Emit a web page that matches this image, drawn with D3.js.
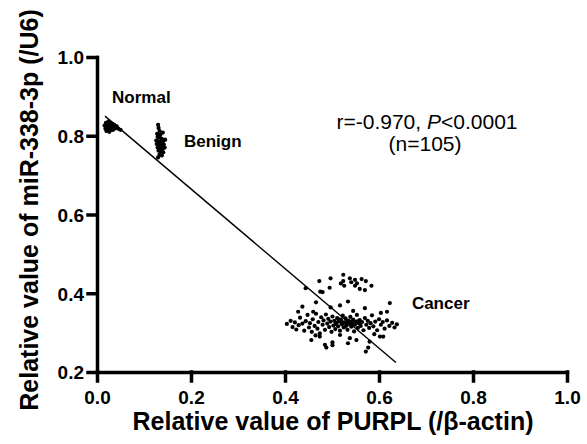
<!DOCTYPE html>
<html lang="en">
<head>
  <meta charset="UTF-8">
  <title>PURPL vs miR-338-3p</title>
  <script src="https://d3js.org/d3.v7.min.js"></script>
  <style>
    body { margin: 0; background: #fff; }
    svg { display: block; background: #fff; }
    text { font-family: "Liberation Sans", Arial, sans-serif; fill: #000; }
    .label { font-size: 25px; font-weight: bold; }
    .group { font-size: 17px; font-weight: bold; }
    .stat { font-size: 21px; }
    .tick-label { font-size: 19px; font-weight: bold; }
  </style>
</head>
<body>
  <svg width="587" height="444"></svg>

  <script>
    const width = 587;
    const height = 444;

    // datos: [PURPL, miR-338-3p]
    const normalPoints = [
      [0.016,0.826],[0.018,0.818],[0.019,0.833],[0.020,0.812],[0.021,0.824],[0.022,0.829],
      [0.023,0.816],[0.024,0.836],[0.025,0.821],[0.026,0.810],[0.027,0.827],[0.028,0.819],
      [0.029,0.832],[0.030,0.814],[0.031,0.825],[0.032,0.820],[0.033,0.830],[0.034,0.815],
      [0.035,0.823],[0.036,0.828],[0.037,0.818],[0.038,0.826],[0.040,0.821],[0.042,0.824],
      [0.045,0.818],[0.050,0.815]
    ];
    const benignPoints = [
      [0.130,0.828],[0.131,0.820],[0.133,0.812],[0.128,0.805],[0.135,0.803],[0.140,0.808],
      [0.129,0.797],[0.134,0.795],[0.138,0.792],[0.126,0.788],[0.131,0.786],[0.136,0.784],
      [0.141,0.787],[0.145,0.790],[0.127,0.779],[0.132,0.777],[0.137,0.775],[0.142,0.778],
      [0.129,0.770],[0.134,0.768],[0.139,0.766],[0.144,0.770],[0.131,0.762],[0.136,0.760],
      [0.141,0.758],[0.133,0.752],[0.138,0.750],[0.130,0.745]
    ];
    const cancerPoints = [
      // grupo alto
      [0.473,0.431],[0.497,0.438],[0.524,0.447],[0.538,0.438],[0.519,0.425],[0.526,0.419],
      [0.549,0.434],[0.563,0.436],[0.549,0.419],[0.559,0.411],[0.570,0.408],[0.584,0.419],
      [0.444,0.413],[0.475,0.404],[0.480,0.403],[0.495,0.414],[0.524,0.431],[0.541,0.428],
      [0.553,0.425],[0.572,0.431],
      // medio
      [0.437,0.366],[0.466,0.377],[0.428,0.353],[0.534,0.379],[0.623,0.375],[0.617,0.353],
      [0.517,0.369],[0.570,0.362],[0.497,0.364],[0.460,0.353],[0.545,0.355],[0.604,0.350],
      // banda principal
      [0.404,0.322],[0.412,0.330],[0.416,0.314],[0.421,0.326],[0.424,0.308],[0.429,0.319],
      [0.432,0.338],[0.437,0.323],[0.441,0.305],[0.444,0.329],[0.448,0.345],[0.451,0.313],
      [0.453,0.324],[0.457,0.302],[0.459,0.334],[0.463,0.317],[0.466,0.348],[0.469,0.310],
      [0.471,0.327],[0.474,0.298],[0.477,0.339],[0.480,0.320],[0.482,0.331],[0.485,0.307],
      [0.487,0.346],[0.490,0.323],[0.492,0.335],[0.494,0.314],[0.497,0.328],[0.499,0.302],
      [0.501,0.341],[0.503,0.318],[0.505,0.330],[0.507,0.309],[0.509,0.325],[0.511,0.337],
      [0.513,0.316],[0.515,0.328],[0.517,0.305],[0.519,0.333],[0.521,0.321],[0.523,0.343],
      [0.525,0.313],[0.527,0.326],[0.529,0.336],[0.531,0.318],[0.533,0.307],[0.535,0.330],
      [0.537,0.322],[0.539,0.340],[0.541,0.315],[0.543,0.325],[0.545,0.333],[0.547,0.303],
      [0.549,0.320],[0.551,0.328],[0.553,0.345],[0.555,0.312],[0.557,0.324],[0.559,0.332],
      [0.561,0.317],[0.564,0.327],[0.567,0.306],[0.570,0.337],[0.573,0.320],[0.576,0.330],
      [0.579,0.312],[0.582,0.324],[0.585,0.344],[0.588,0.316],[0.592,0.328],[0.596,0.306],
      [0.600,0.334],[0.604,0.320],[0.608,0.327],[0.612,0.310],[0.617,0.331],[0.622,0.317],
      [0.628,0.325],[0.633,0.313],[0.638,0.321],[0.508,0.322],[0.522,0.326],[0.532,0.324],
      [0.540,0.328],[0.546,0.321],[0.556,0.329],[0.514,0.334],[0.528,0.316],[0.560,0.323],
      // grupo bajo
      [0.456,0.281],[0.485,0.269],[0.488,0.262],[0.501,0.275],[0.501,0.268],[0.534,0.273],
      [0.552,0.281],[0.577,0.262],[0.572,0.252],[0.517,0.294],[0.474,0.290],[0.602,0.290],
      [0.609,0.290],[0.538,0.286],[0.580,0.277],[0.465,0.293],[0.590,0.296]
    ];

    // recta de regresion
    const fitIntercept = 0.867;
    const fitSlope = -1.011;
    const fitRange = [0.017, 0.636];

    const xTicks = [0, 0.2, 0.4, 0.6, 0.8, 1.0];
    const yTicks = [0.2, 0.4, 0.6, 0.8, 1.0];

    const groupLabels = [
      { text: "Normal", x: 0.032, y: 0.883 },
      { text: "Benign", x: 0.185, y: 0.772 },
      { text: "Cancer", x: 0.67, y: 0.36 }
    ];

    const svg = d3.select("svg")
        .attr("width", width)
        .attr("height", height);

    const x = d3.scaleLinear().domain([0, 1]).range([97, 567]);
    const y = d3.scaleLinear().domain([0.2, 1]).range([372, 57]);

    // ejes: d3 genera la escala y los ticks, luego se repasan en negro grueso
    const xAxisG = svg.append("g")
        .attr("transform", `translate(0,${y(0.2)})`)
        .call(d3.axisBottom(x).tickValues(xTicks).tickFormat(d3.format(".1f"))
          .tickSize(9).tickSizeOuter(0).tickPadding(5));

    const yAxisG = svg.append("g")
        .attr("transform", `translate(${x(0)},0)`)
        .call(d3.axisLeft(y).tickValues(yTicks).tickFormat(d3.format(".1f"))
          .tickSize(9).tickSizeOuter(0).tickPadding(4));

    [xAxisG, yAxisG].forEach(g => {
      g.attr("font-size", null).attr("font-family", null);
      g.selectAll(".domain, .tick line")
        .attr("stroke", "#000")
        .attr("stroke-width", 3.5)
        .attr("stroke-linecap", "square");
      g.selectAll(".tick text")
        .attr("class", "tick-label")
        .attr("fill", "#000");
    });
    xAxisG.selectAll(".tick text").attr("dy", "0.95em");
    yAxisG.selectAll(".tick text").attr("dy", "0.36em");

    // recta de regresion
    svg.append("line")
        .attr("x1", x(fitRange[0]))
        .attr("y1", y(fitIntercept + fitSlope * fitRange[0]))
        .attr("x2", x(fitRange[1]))
        .attr("y2", y(fitIntercept + fitSlope * fitRange[1]))
        .attr("stroke", "#000")
        .attr("stroke-width", 1.4);

    // puntos
    const allPoints = normalPoints.concat(benignPoints, cancerPoints);
    svg.selectAll("circle.pt")
        .data(allPoints)
        .enter().append("circle")
        .attr("class", "pt")
        .attr("cx", d => x(d[0]))
        .attr("cy", d => y(d[1]))
        .attr("r", 2.1)
        .attr("fill", "#000");

    // etiquetas de grupo
    svg.selectAll("text.group")
        .data(groupLabels)
        .enter().append("text")
        .attr("class", "group")
        .attr("x", d => x(d.x))
        .attr("y", d => y(d.y))
        .text(d => d.text);

    // estadistica
    const stat = svg.append("text")
        .attr("class", "stat")
        .attr("x", 427)
        .attr("y", 129)
        .attr("text-anchor", "middle");
    stat.append("tspan").text("r=-0.970, ");
    stat.append("tspan").attr("font-style", "italic").text("P");
    stat.append("tspan").text("<0.0001");

    svg.append("text")
        .attr("class", "stat")
        .attr("x", 425)
        .attr("y", 151)
        .attr("text-anchor", "middle")
        .text("(n=105)");

    // titulos de ejes
    svg.append("text")
        .attr("class", "label")
        .attr("x", 333)
        .attr("y", 430)
        .attr("text-anchor", "middle")
        .text("Relative value of PURPL (/β-actin)");

    svg.append("text")
        .attr("class", "label")
        .attr("transform", "translate(38,210) rotate(-90)")
        .attr("text-anchor", "middle")
        .text("Relative value of miR-338-3p (/U6)");
  </script>
</body>
</html>
